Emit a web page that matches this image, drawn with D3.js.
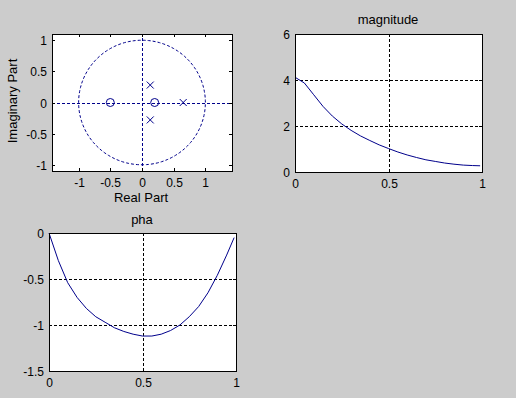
<!DOCTYPE html>
<html>
<head>
<meta charset="utf-8">
<script src="https://cdn.jsdelivr.net/npm/d3@7"></script>
<style>
  body { margin: 0; background: #cccccc; }
  svg text { font-family: "Liberation Sans", Arial, sans-serif; font-size: 12px; fill: #000; }
</style>
</head>
<body>
<div id="container"></div>
<script>
// pole / zero positions
var zerosRe = [-0.5, 0.2];
var zerosIm = [0, 0];
var polesRe = [0.65, 0.13, 0.13];
var polesIm = [0, 0.28, -0.28];

// frequency response (normalised frequency)
var freq = [0, 0.05, 0.1, 0.15, 0.2, 0.25, 0.3, 0.35, 0.4, 0.45, 0.5,
            0.55, 0.6, 0.65, 0.7, 0.75, 0.8, 0.85, 0.9, 0.95, 0.99];
var magnitude = [4.12, 3.87, 3.36, 2.85, 2.43, 2.09, 1.81, 1.57, 1.37, 1.18, 1.02,
                 0.87, 0.74, 0.63, 0.53, 0.46, 0.39, 0.34, 0.30, 0.28, 0.27];
var phase = [0, -0.30, -0.54, -0.70, -0.82, -0.91, -0.97, -1.03, -1.07, -1.10, -1.12,
             -1.12, -1.10, -1.06, -1.00, -0.91, -0.80, -0.65, -0.46, -0.24, -0.05];

var zTicksX = [-1, -0.5, 0, 0.5, 1];
var zTicksY = [-1, -0.5, 0, 0.5, 1];
var magTicksX = [0, 0.5, 1];
var magTicksY = [0, 2, 4, 6];
var phaTicksX = [0, 0.5, 1];
var phaTicksY = [-1.5, -1, -0.5, 0];

var width = 516, height = 398;
var lineColor = "#00008b";

var svg = d3.select("#container").append("svg")
    .attr("width", width)
    .attr("height", height);

function fmt(v) { return String(v); }

// draws a MATLAB-like axes box with inward ticks on all sides
function makeAxes(box, xDom, yDom, xTicks, yTicks, grid) {
    var x = d3.scaleLinear().domain(xDom).range([box.left, box.right]);
    var y = d3.scaleLinear().domain(yDom).range([box.bottom, box.top]);
    var g = svg.append("g");

    g.append("rect")
        .attr("x", box.left).attr("y", box.top)
        .attr("width", box.right - box.left)
        .attr("height", box.bottom - box.top)
        .style("fill", "#fff");

    if (grid) {
        g.selectAll(".gx").data(xTicks.filter(function(d) { return d != xDom[0] && d != xDom[1]; }))
            .enter().append("line")
            .attr("x1", function(d) { return Math.round(x(d)) + 0.5; })
            .attr("x2", function(d) { return Math.round(x(d)) + 0.5; })
            .attr("y1", box.top).attr("y2", box.bottom)
            .style("stroke", "#000").style("stroke-dasharray", "3,2");
        g.selectAll(".gy").data(yTicks.filter(function(d) { return d != yDom[0] && d != yDom[1]; }))
            .enter().append("line")
            .attr("y1", function(d) { return Math.round(y(d)) + 0.5; })
            .attr("y2", function(d) { return Math.round(y(d)) + 0.5; })
            .attr("x1", box.left).attr("x2", box.right)
            .style("stroke", "#000").style("stroke-dasharray", "3,2");
    }

    var content = g.append("g");

    // ticks
    var tk = 3;
    xTicks.forEach(function(d) {
        var px = Math.round(x(d)) + 0.5;
        g.append("line").attr("x1", px).attr("x2", px)
            .attr("y1", box.bottom).attr("y2", box.bottom - tk).style("stroke", "#000");
        g.append("line").attr("x1", px).attr("x2", px)
            .attr("y1", box.top).attr("y2", box.top + tk).style("stroke", "#000");
        g.append("text").attr("x", px).attr("y", box.bottom + 16)
            .attr("text-anchor", "middle").text(fmt(d));
    });
    yTicks.forEach(function(d) {
        var py = Math.round(y(d)) + 0.5;
        g.append("line").attr("y1", py).attr("y2", py)
            .attr("x1", box.left).attr("x2", box.left + tk).style("stroke", "#000");
        g.append("line").attr("y1", py).attr("y2", py)
            .attr("x1", box.right).attr("x2", box.right - tk).style("stroke", "#000");
        g.append("text").attr("x", box.left - 5).attr("y", py + 4)
            .attr("text-anchor", "end").text(fmt(d));
    });

    g.append("rect")
        .attr("x", box.left + 0.5).attr("y", box.top + 0.5)
        .attr("width", box.right - box.left)
        .attr("height", box.bottom - box.top)
        .style("fill", "none").style("stroke", "#000");

    return { x: x, y: y, g: content };
}

// ---- z-plane ----
var zp = makeAxes({ left: 52, right: 232, top: 34, bottom: 171 },
    [-1.42, 1.42], [-1.1, 1.1], zTicksX, zTicksY, false);

var circle = d3.range(0, 2 * Math.PI + 0.01, Math.PI / 90);
zp.g.append("path")
    .datum(circle)
    .attr("d", d3.line()
        .x(function(t) { return zp.x(Math.cos(t)); })
        .y(function(t) { return zp.y(Math.sin(t)); }))
    .style("fill", "none").style("stroke", lineColor).style("stroke-dasharray", "3,2");
zp.g.append("line")
    .attr("x1", zp.x(-1.42)).attr("x2", zp.x(1.42))
    .attr("y1", Math.round(zp.y(0)) + 0.5).attr("y2", Math.round(zp.y(0)) + 0.5)
    .style("stroke", lineColor).style("stroke-dasharray", "3,2");
zp.g.append("line")
    .attr("y1", zp.y(-1.1)).attr("y2", zp.y(1.1))
    .attr("x1", Math.round(zp.x(0)) + 0.5).attr("x2", Math.round(zp.x(0)) + 0.5)
    .style("stroke", lineColor).style("stroke-dasharray", "3,2");

zp.g.selectAll(".zero").data(zerosRe).enter().append("circle")
    .attr("cx", function(d) { return zp.x(d); })
    .attr("cy", function(d, i) { return zp.y(zerosIm[i]); })
    .attr("r", 4)
    .style("fill", "none").style("stroke", lineColor);

polesRe.forEach(function(d, i) {
    var cx = zp.x(d), cy = zp.y(polesIm[i]), s = 3.5;
    zp.g.append("path")
        .attr("d", "M" + (cx - s) + "," + (cy - s) + "L" + (cx + s) + "," + (cy + s) +
                   "M" + (cx - s) + "," + (cy + s) + "L" + (cx + s) + "," + (cy - s))
        .style("stroke", lineColor);
});

svg.append("text").attr("x", 141).attr("y", 202).attr("text-anchor", "middle")
    .style("font-size", "13px").text("Real Part");
svg.append("text").attr("transform", "translate(17,101) rotate(-90)")
    .attr("text-anchor", "middle").style("font-size", "13px").text("Imaginary Part");

// ---- magnitude ----
var mp = makeAxes({ left: 295, right: 482, top: 34, bottom: 172 },
    [0, 1], [0, 6], magTicksX, magTicksY, true);
mp.g.append("path")
    .datum(freq)
    .attr("d", d3.line()
        .x(function(d) { return mp.x(d); })
        .y(function(d, i) { return mp.y(magnitude[i]); }))
    .style("fill", "none").style("stroke", lineColor);
svg.append("text").attr("x", 388).attr("y", 24).attr("text-anchor", "middle")
    .style("font-size", "13px").text("magnitude");

// ---- phase ----
var pp = makeAxes({ left: 49, right: 236, top: 233, bottom: 371 },
    [0, 1], [-1.5, 0], phaTicksX, phaTicksY, true);
pp.g.append("path")
    .datum(freq)
    .attr("d", d3.line()
        .x(function(d) { return pp.x(d); })
        .y(function(d, i) { return pp.y(phase[i]); }))
    .style("fill", "none").style("stroke", lineColor);
svg.append("text").attr("x", 142).attr("y", 224).attr("text-anchor", "middle")
    .style("font-size", "13px").text("pha");
</script>
</body>
</html>
